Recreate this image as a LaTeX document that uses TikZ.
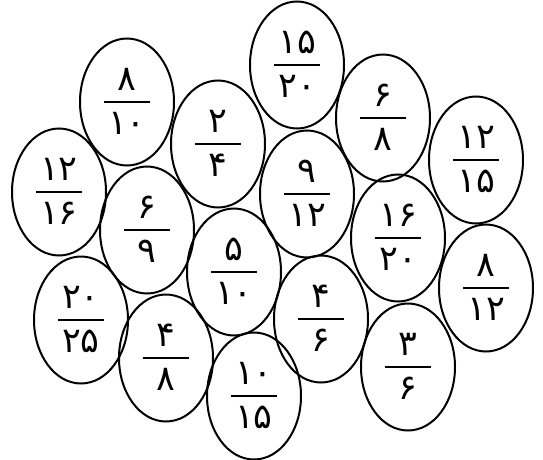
\documentclass[tikz,border=0pt]{standalone}
\usepackage{fontspec}
\newfontfamily\fa[Script=Arabic]{DejaVu Sans}
\usetikzlibrary{shapes.geometric}
\tikzset{
  oval/.style={ellipse, draw, line width=2pt, minimum width=94pt, minimum height=127pt, inner sep=0pt},
  digit/.style={inner sep=0pt, anchor=base, font=\fa\fontsize{35}{35}\selectfont},
  fbar/.style={line width=2.8pt}
}
\newcommand{\frc}[5]{%
  \node[oval] (#1) at (#2,#3) {};
  \node[digit] (#1n) at ([yshift=12pt]#1.center) {#4};
  \node[digit] (#1d) at ([yshift=-32pt]#1.center) {#5};
  \draw[fbar] ([xshift=-23pt]#1.center) -- ([xshift=23pt]#1.center);
}
\begin{document}
\begin{tikzpicture}[x=1pt,y=-1pt]
\useasboundingbox (0,0) rectangle (543,460);
\frc{a}{127}{102}{۸}{۱۰}
\frc{b}{297}{65}{۱۵}{۲۰}
\frc{c}{383}{118}{۶}{۸}
\frc{d}{218}{144}{۲}{۴}
\frc{e}{476}{160}{۱۲}{۱۵}
\frc{f}{59}{192}{۱۲}{۱۶}
\frc{g}{307}{194}{۹}{۱۲}
\frc{h}{147}{230}{۶}{۹}
\frc{i}{398}{238}{۱۶}{۲۰}
\frc{j}{234}{272}{۵}{۱۰}
\frc{k}{486}{288}{۸}{۱۲}
\frc{l}{81}{320}{۲۰}{۲۵}
\frc{m}{321}{319}{۴}{۶}
\frc{n}{166}{358}{۴}{۸}
\frc{o}{408}{367}{۳}{۶}
\frc{p}{254}{396}{۱۰}{۱۵}
\end{tikzpicture}
\end{document}
